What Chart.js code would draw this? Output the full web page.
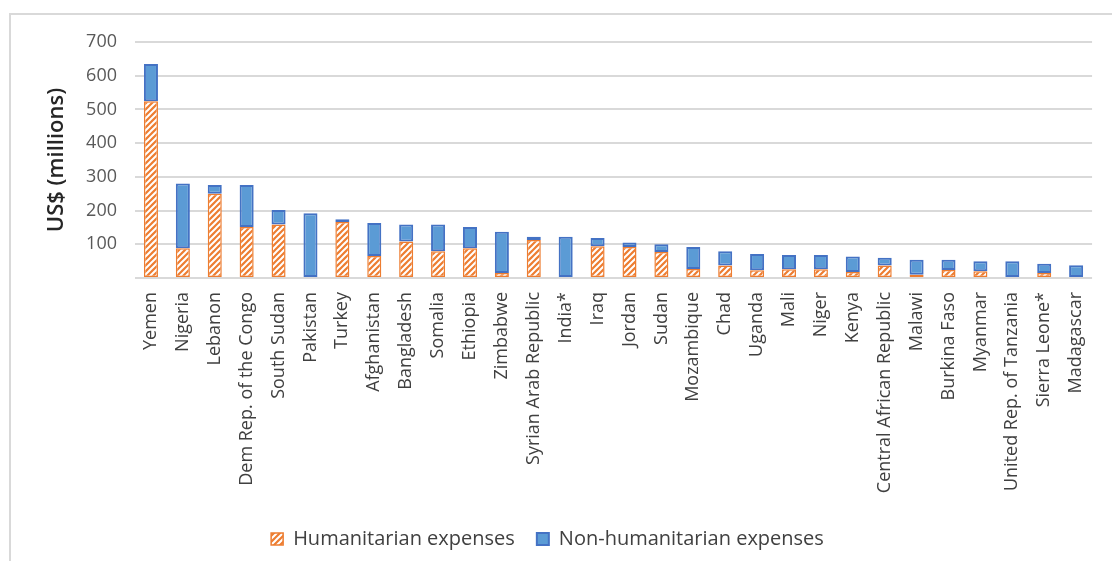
<!DOCTYPE html>
<html>
<head>
<meta charset="utf-8">
<script src="https://cdn.jsdelivr.net/npm/chart.js@4"></script>
<style>
  html, body { margin: 0; padding: 0; background: #fff; }
  #wrap { position: relative; width: 1112px; height: 561px; overflow: hidden; }
  #frame { position: absolute; left: 9px; top: 13px; width: 1110px; height: 560px;
           border-left: 2px solid #d9d9d9; border-top: 2px solid #d9d9d9; }
  #chart { position: absolute; left: 0; top: 0; }
</style>
</head>
<body>
<div id="wrap">
  <div id="frame"></div>
  <canvas id="chart" width="1112" height="561"></canvas>
</div>
<script>
// Countries, ordered by total expenses
const countries = [
  "Yemen", "Nigeria", "Lebanon", "Dem Rep. of the Congo", "South Sudan", "Pakistan",
  "Turkey", "Afghanistan", "Bangladesh", "Somalia", "Ethiopia", "Zimbabwe",
  "Syrian Arab Republic", "India*", "Iraq", "Jordan", "Sudan", "Mozambique", "Chad",
  "Uganda", "Mali", "Niger", "Kenya", "Central African Republic", "Malawi",
  "Burkina Faso", "Myanmar", "United Rep. of Tanzania", "Sierra Leone*", "Madagascar"
];

// US$ millions
const humanitarian = [
  524, 88, 250, 151, 159, 0, 166, 65, 108, 79, 88, 15, 113, 0, 94,
  92, 77, 27, 37, 23, 26, 26, 18, 37, 10, 24, 20, 0, 15, 0
];
const nonHumanitarian = [
  111, 192, 26, 125, 43, 192, 8, 98, 51, 80, 63, 122, 9, 122, 25,
  13, 23, 65, 42, 48, 42, 42, 46, 23, 44, 30, 30, 50, 27, 38
];

const yTicks = [100, 200, 300, 400, 500, 600, 700];

const canvas = document.getElementById("chart");
const ctx = canvas.getContext("2d");

//Orange fill with white diagonal stripes
function makeHatch() {
  const c = document.createElement("canvas");
  c.width = 6; c.height = 6;
  const g = c.getContext("2d");
  g.fillStyle = "#ED7D31";
  g.fillRect(0, 0, 6, 6);
  g.strokeStyle = "#ffffff";
  g.lineWidth = 2;
  g.beginPath();
  g.moveTo(0, 6); g.lineTo(6, 0);
  g.moveTo(-1, 1); g.lineTo(1, -1);
  g.moveTo(5, 7); g.lineTo(7, 5);
  g.stroke();
  return ctx.createPattern(c, "repeat");
}

const font = "'Open Sans', 'Noto Sans', sans-serif";
const textColor = "#595959";

new Chart(canvas, {
  type: "bar",
  data: {
    labels: countries,
    datasets: [
      {
        label: "Humanitarian expenses",
        data: humanitarian,
        backgroundColor: makeHatch(),
        borderColor: "#ED7D31",
        borderWidth: (c) => (c.raw ? 1.5 : 0),
        borderSkipped: false,
      },
      {
        label: "Non-humanitarian expenses",
        data: nonHumanitarian,
        backgroundColor: "#5B9BD5",
        borderColor: "#4472C4",
        borderWidth: 2,
        borderSkipped: false,
      },
    ],
  },
  options: {
    responsive: false,
    animation: false,
    categoryPercentage: 1,
    barPercentage: 0.44,
    layout: { padding: { top: 42, right: 17, left: 0, bottom: 2 } },
    plugins: {
      tooltip: { enabled: false },
      legend: {
        position: "bottom",
        labels: {
          color: "#404040",
          font: { family: font, size: 20 },
          boxWidth: 12,
          boxHeight: 12,
          padding: 22,
        },
      },
    },
    scales: {
      x: {
        stacked: true,
        grid: { display: false, drawTicks: false },
        border: { display: false },
        ticks: {
          color: "#404040",
          font: { family: font, size: 18 },
          minRotation: 90,
          maxRotation: 90,
          autoSkip: false,
          padding: 14,
        },
        afterFit: (s) => { s.height = 229; },
      },
      y: {
        stacked: true,
        min: 0,
        max: 700,
        afterBuildTicks: (s) => { s.ticks = [0].concat(yTicks).map((v) => ({ value: v })); },
        grid: { color: "#d9d9d9", lineWidth: 2, drawTicks: false },
        border: { display: false },
        ticks: {
          color: textColor,
          font: { family: font, size: 18 },
          padding: 18,
          callback: (v) => (v === 0 ? "" : v),
        },
        title: {
          display: true,
          text: "US$ (millions)",
          color: "#262626",
          font: { family: font, size: 22, weight: "600" },
          padding: { top: 44, bottom: 0 },
        },
        afterFit: (s) => { s.width = 135; },
      },
    },
  },
});
</script>
</body>
</html>
